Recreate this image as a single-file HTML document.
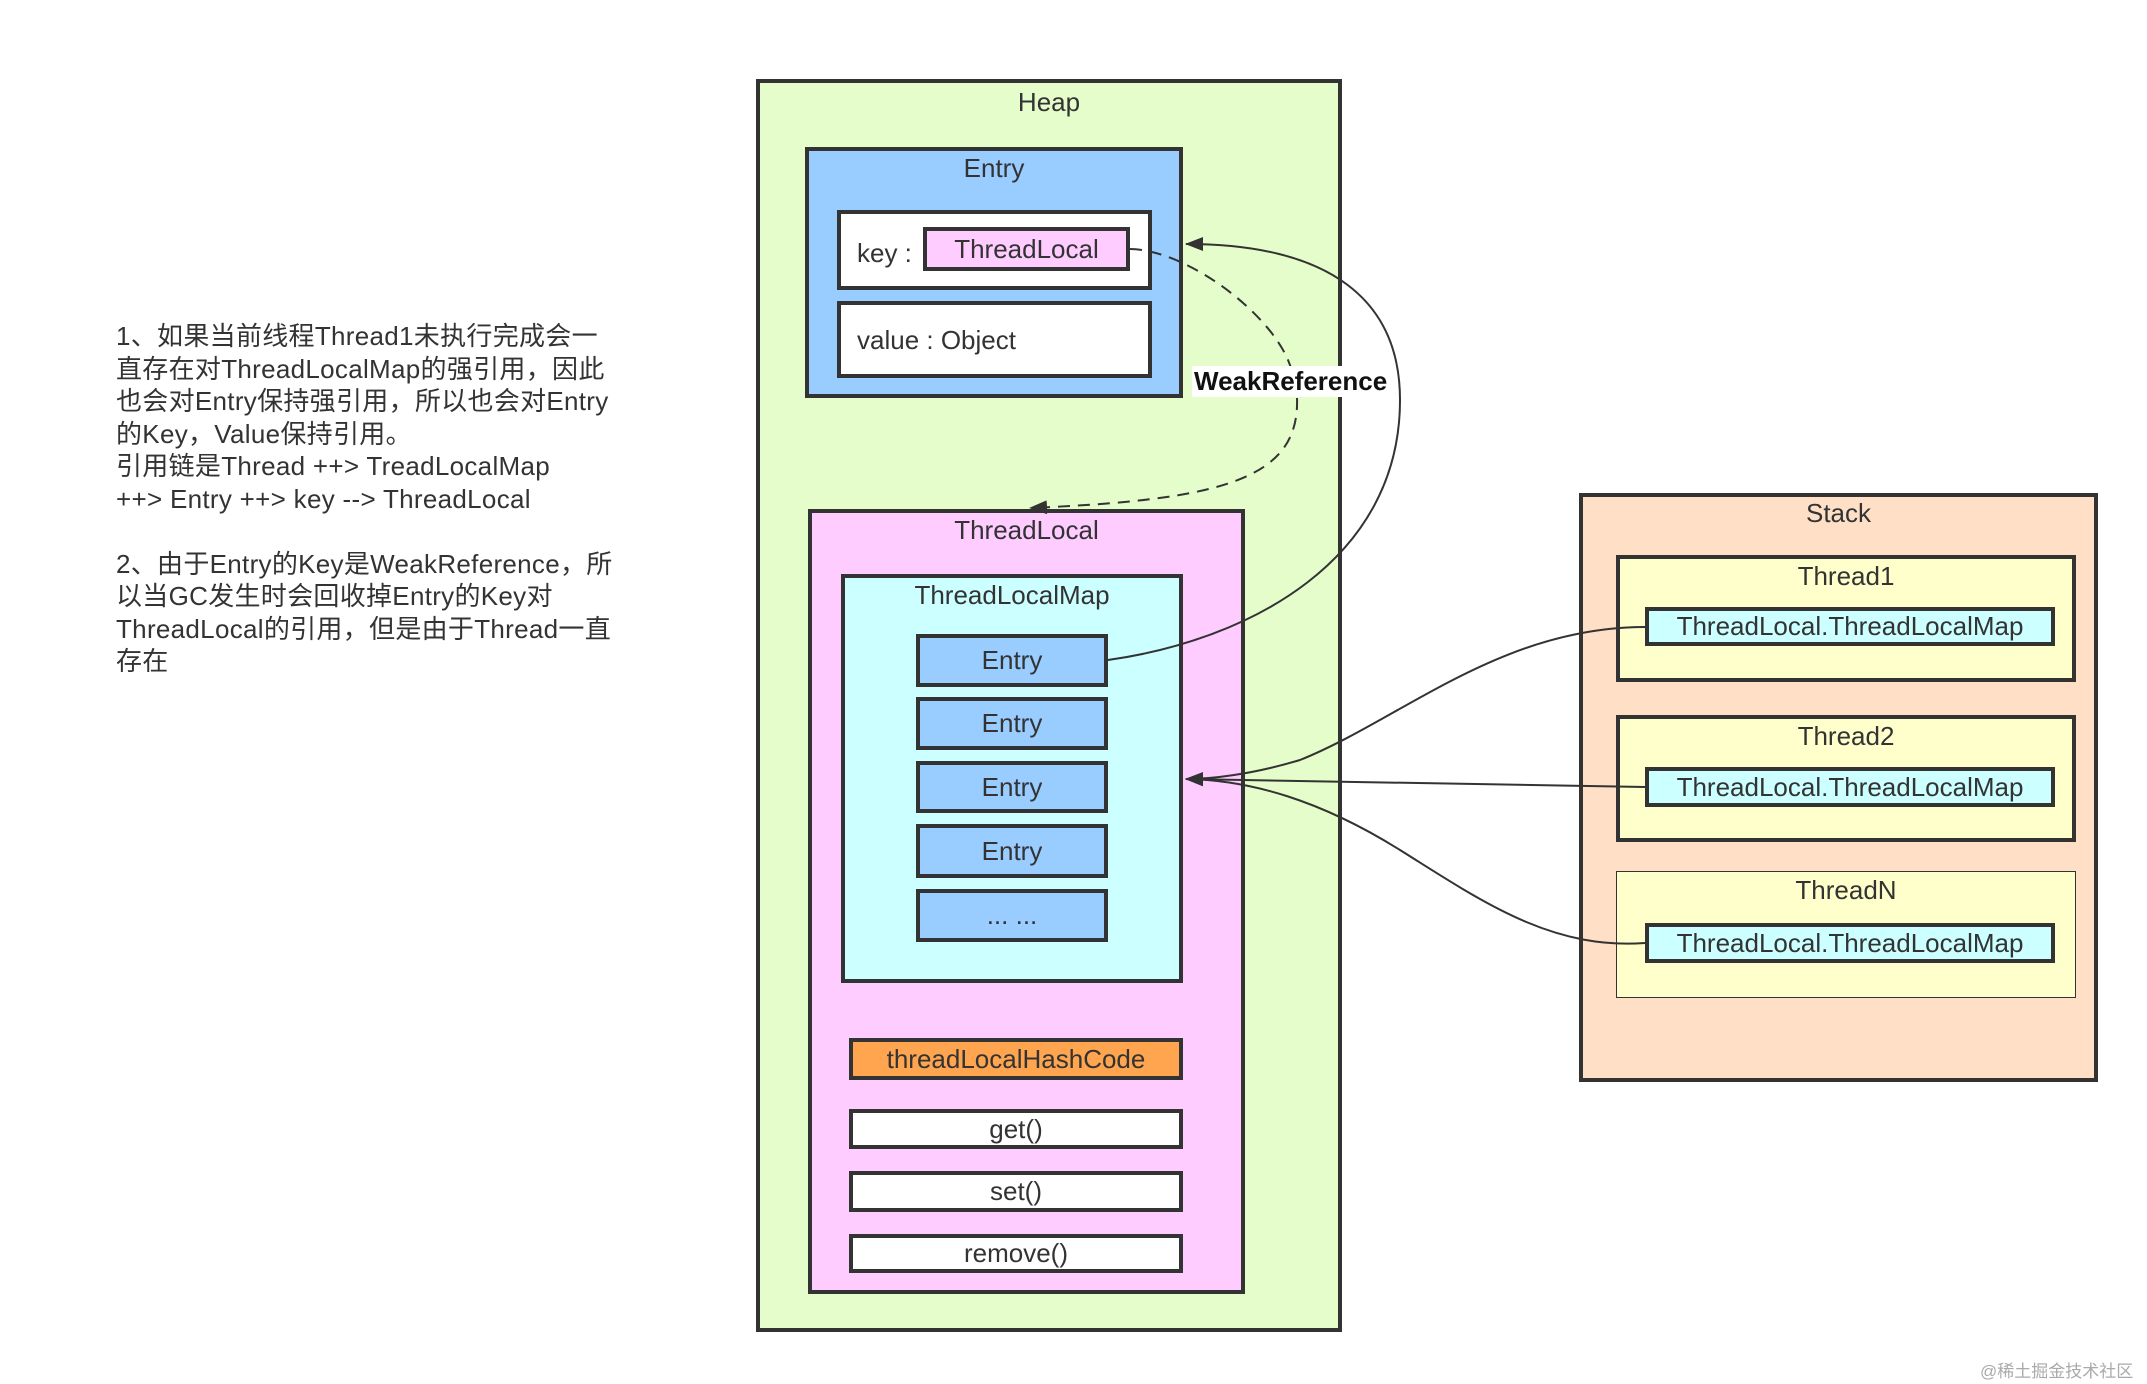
<!DOCTYPE html>
<html><head><meta charset="utf-8"><style>
body{margin:0;width:2147px;height:1384px;background:#fff;position:relative;overflow:hidden;font-family:"Liberation Sans","Noto Sans CJK SC",sans-serif;color:#333}
.b{position:absolute;box-sizing:border-box;border:4px solid #333;text-align:center;font-size:26px}
.t{position:absolute;left:0;right:0;text-align:center}
.c{display:flex;align-items:center;justify-content:center}
</style></head><body>
<div style="position:absolute;left:116px;top:320px;font-size:26px;letter-spacing:0.3px;line-height:32.5px;white-space:pre;color:#333">1、如果当前线程Thread1未执行完成会一
直存在对ThreadLocalMap的强引用，因此
也会对Entry保持强引用，所以也会对Entry
的Key，Value保持引用。
引用链是Thread ++> TreadLocalMap
++> Entry ++> key --> ThreadLocal

2、由于Entry的Key是WeakReference，所
以当GC发生时会回收掉Entry的Key对
ThreadLocal的引用，但是由于Thread一直
存在</div>

<div class="b" style="left:756px;top:79px;width:586px;height:1253px;background:#e5fdca"><div class="t" style="top:4px">Heap</div></div>
<div class="b" style="left:805px;top:147px;width:378px;height:251px;background:#99ccff"><div class="t" style="top:2px">Entry</div></div>
<div class="b" style="left:837px;top:210px;width:315px;height:80px;background:#fff"><div style="position:absolute;left:16px;top:24px">key :</div></div>
<div class="b c" style="left:923px;top:227px;width:207px;height:44px;background:#ffccff">ThreadLocal</div>
<div class="b" style="left:837px;top:301px;width:315px;height:77px;background:#fff"><div style="position:absolute;left:16px;top:20px">value : Object</div></div>

<div class="b" style="left:808px;top:509px;width:437px;height:785px;background:#ffccff"><div class="t" style="top:2px">ThreadLocal</div></div>
<div class="b" style="left:841px;top:574px;width:342px;height:409px;background:#ccffff"><div class="t" style="top:2px">ThreadLocalMap</div></div>
<div class="b c" style="left:916px;top:634px;width:192px;height:53px;background:#99ccff">Entry</div>
<div class="b c" style="left:916px;top:697px;width:192px;height:53px;background:#99ccff">Entry</div>
<div class="b c" style="left:916px;top:761px;width:192px;height:52px;background:#99ccff">Entry</div>
<div class="b c" style="left:916px;top:824px;width:192px;height:54px;background:#99ccff">Entry</div>
<div class="b c" style="left:916px;top:889px;width:192px;height:53px;background:#99ccff">... ...</div>
<div class="b c" style="left:849px;top:1038px;width:334px;height:42px;background:#ffa54f">threadLocalHashCode</div>
<div class="b c" style="left:849px;top:1109px;width:334px;height:40px;background:#fff">get()</div>
<div class="b c" style="left:849px;top:1171px;width:334px;height:41px;background:#fff">set()</div>
<div class="b c" style="left:849px;top:1234px;width:334px;height:39px;background:#fff">remove()</div>

<div class="b" style="left:1579px;top:493px;width:519px;height:589px;background:#ffe0c6"><div class="t" style="top:1px">Stack</div></div>
<div class="b" style="left:1616px;top:555px;width:460px;height:127px;background:#ffffcc"><div class="t" style="top:2px">Thread1</div></div>
<div class="b c" style="left:1645px;top:607px;width:410px;height:39px;background:#ccffff">ThreadLocal.ThreadLocalMap</div>
<div class="b" style="left:1616px;top:715px;width:460px;height:127px;background:#ffffcc"><div class="t" style="top:2px">Thread2</div></div>
<div class="b c" style="left:1645px;top:767px;width:410px;height:40px;background:#ccffff">ThreadLocal.ThreadLocalMap</div>
<div class="b" style="left:1616px;top:871px;width:460px;height:127px;background:#ffffcc;border-width:1.5px"><div class="t" style="top:3px">ThreadN</div></div>
<div class="b c" style="left:1645px;top:923px;width:410px;height:40px;background:#ccffff">ThreadLocal.ThreadLocalMap</div>

<svg width="2147" height="1384" style="position:absolute;left:0;top:0" fill="none" stroke="#333" stroke-width="2">
<defs><marker id="a" markerWidth="18" markerHeight="14" refX="17" refY="7" orient="auto" markerUnits="userSpaceOnUse" viewBox="0 0 18 14"><path d="M0,0 L18,7 L0,14 z" fill="#333" stroke="none"/></marker></defs>
<path d="M1108,660 C1250,640 1400,560 1400,400 C1400,300 1330,244 1186,244" marker-end="url(#a)"/>
<path d="M1130,249 C1190,250 1280,320 1292,372" stroke-dasharray="12,8"/>
<path d="M1297,398 C1300,480 1220,500 1030,508" stroke-dasharray="12,8" marker-end="url(#a)"/>
<path d="M1645,627 C1500,627 1400,720 1300,760 C1250,775 1210,779 1186,779" marker-end="url(#a)"/>
<path d="M1645,787 L1186,779" marker-end="url(#a)"/>
<path d="M1645,943 C1550,950 1480,900 1400,850 C1320,800 1250,780 1186,779" marker-end="url(#a)"/>
</svg>
<div style="position:absolute;left:1192px;top:366px;background:#fff;font-weight:bold;font-size:26px;color:#111;padding:0 2px">WeakReference</div>
<div style="position:absolute;left:1980px;top:1357px;font-size:17px;color:#aaa">@稀土掘金技术社区</div>
</body></html>
